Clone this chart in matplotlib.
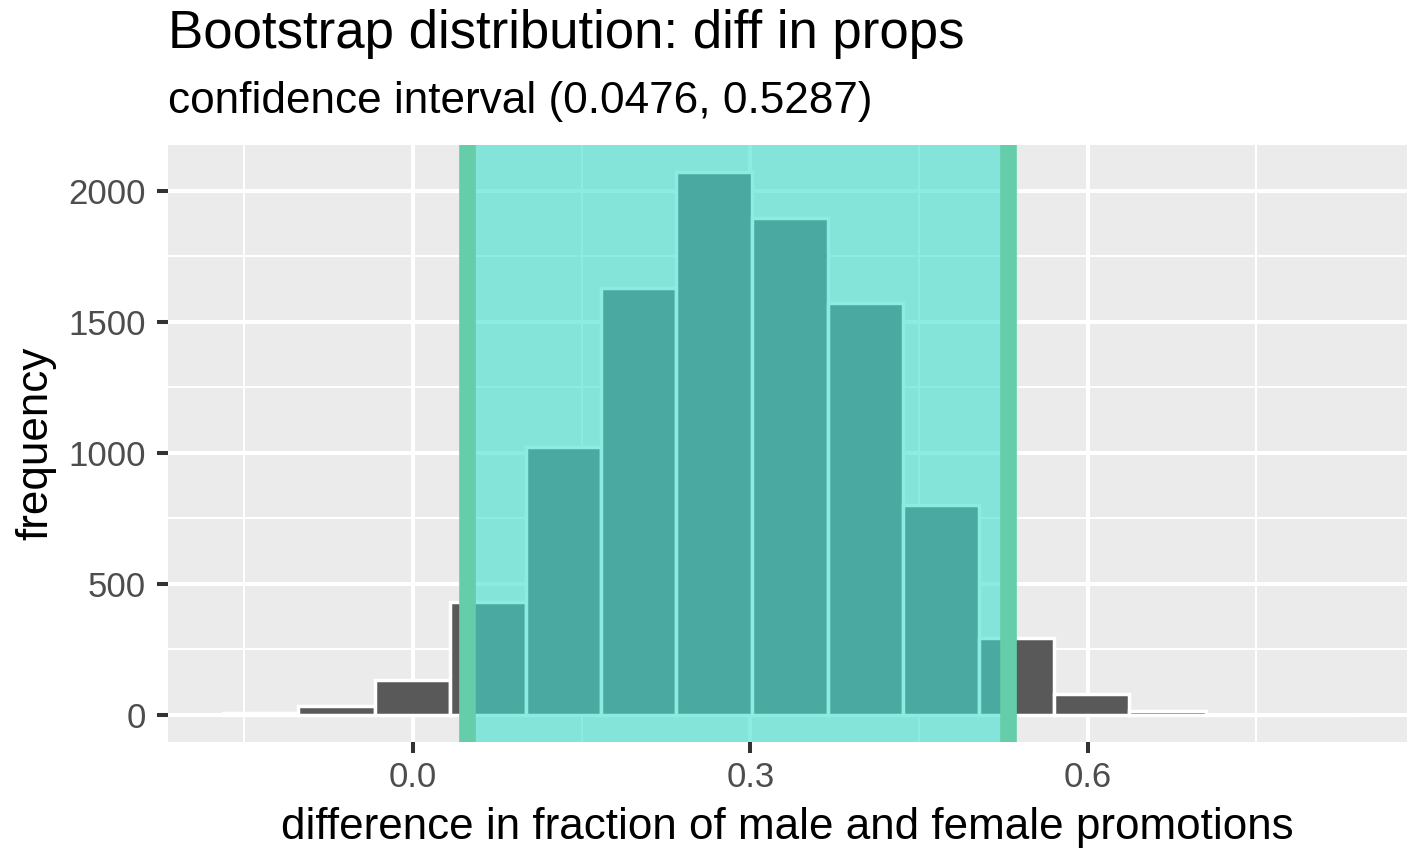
import numpy as np
import matplotlib
matplotlib.use("Agg")
import matplotlib.pyplot as plt
from matplotlib.ticker import MultipleLocator, FixedLocator

plt.rcParams['font.family'] = ['Liberation Sans', 'DejaVu Sans']

# bootstrap histogram (15 bins)
bin_edges = [-0.169, -0.102, -0.034, 0.033, 0.100, 0.167, 0.234, 0.301,
             0.369, 0.436, 0.503, 0.570, 0.637, 0.705, 0.772, 0.839]
counts = [7, 34, 133, 432, 1022, 1628, 2072, 1895, 1574, 802, 292, 80, 13, 0, 0]
ci = (0.0476, 0.5287)

title = "Bootstrap distribution: diff in props"
subtitle = "confidence interval ({:.4f}, {:.4f})".format(*ci)
xlab = "difference in fraction of male and female promotions"
ylab = "frequency"

x_major = [0.0, 0.3, 0.6]
x_minor = [-0.15, 0.15, 0.45, 0.75]
x_range = (-0.218, 0.884)

fig = plt.figure(figsize=(14.11, 8.49), dpi=100)
ax = fig.add_axes([168/1411, 1 - 742/849, (1407-168)/1411, (742-145)/849])
ax.set_facecolor('#EBEBEB')
for s in ax.spines.values():
    s.set_visible(False)

edges = np.array(bin_edges)
ax.bar(edges[:-1], counts, width=np.diff(edges), align='edge',
       color='#595959', edgecolor='white', linewidth=2.5, zorder=2)

# shaded confidence interval
ax.axvspan(ci[0], ci[1], color='#40E0D0', alpha=0.6, lw=0, zorder=3)
for v in ci:
    ax.axvline(v, color='#66CDAA', lw=12, zorder=4)

ax.set_xlim(*x_range)
ymax = max(counts)
ax.set_ylim(-0.05*ymax, 1.05*ymax)

ax.xaxis.set_major_locator(FixedLocator(x_major))
ax.xaxis.set_minor_locator(FixedLocator(x_minor))
ax.yaxis.set_major_locator(MultipleLocator(500))
ax.yaxis.set_minor_locator(MultipleLocator(250))
ax.set_xticklabels(["{:.1f}".format(v) for v in x_major])

ax.set_axisbelow(True)
ax.grid(which='major', color='white', lw=2.9)
ax.grid(which='minor', color='white', lw=1.45)

ax.tick_params(which='major', length=7.9, width=2.9, color='#333333',
               labelsize=25, labelcolor='#4D4D4D')
ax.tick_params(axis='y', pad=8)
ax.tick_params(axis='x', pad=6)
ax.tick_params(which='minor', length=0)

ax.set_xlabel(xlab, fontsize=31.7, color='black', labelpad=9)
ax.set_ylabel(ylab, fontsize=31.7, color='black', labelpad=9)

fig.text(168/1411, 1 - 48/849, title, fontsize=38, ha='left', va='baseline')
fig.text(168/1411, 1 - 113/849, subtitle, fontsize=31.8, ha='left', va='baseline')

fig.savefig("out.png", dpi=100)
